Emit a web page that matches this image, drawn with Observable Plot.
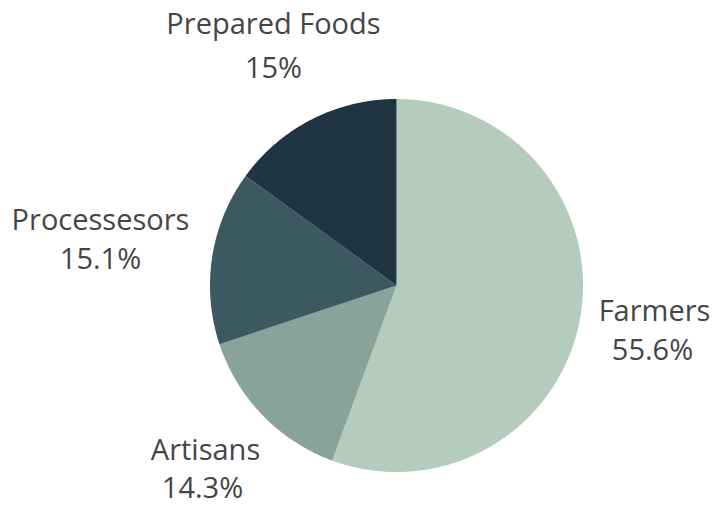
<!DOCTYPE html>
<html>
<head>
<meta charset="utf-8">
<script src="https://cdn.jsdelivr.net/npm/d3@7"></script>
<script src="https://cdn.jsdelivr.net/npm/@observablehq/plot@0.6"></script>
<style>
  html, body { margin: 0; padding: 0; background: #ffffff; }
  #chart svg { display: block; }
</style>
</head>
<body>
<div id="chart"></div>
<script>
// ---- data ----
const categories = ["Farmers", "Artisans", "Processesors", "Prepared Foods"];
const shares = [55.6, 14.3, 15.1, 15.0];
const pctLabels = ["55.6%", "14.3%", "15.1%", "15%"];
const sliceColors = ["#b4ccbd", "#87a39a", "#3c5860", "#1f3442"];

// ---- layout (pixels) ----
const W = 715, H = 506;
const CX = 396, CY = 285, R = 186.5;

// label anchor positions in pixel space (name line, pct line)
const labelLayout = {
  "Farmers":        {nx: 654, ny: 311, px: 652, py: 350},
  "Artisans":       {nx: 205, ny: 450, px: 202, py: 488},
  "Processesors":   {nx: 100, ny: 220, px: 100, py: 259},
  "Prepared Foods": {nx: 273, ny: 24,  px: 273, py: 68}
};
const toX = (px) => (px - CX) / R;
const toY = (py) => (CY - py) / R;

const table = categories.map((c, i) => ({name: c, value: shares[i], pct: pctLabels[i]}));
const arcs = d3.pie().sort(null).value(d => d.value)(table);

// slice polygons in unit-circle coordinates (clockwise from 12 o'clock)
const polyPts = [];
arcs.forEach(a => {
  const n = Math.max(2, Math.ceil((a.endAngle - a.startAngle) / 0.01));
  polyPts.push({name: a.data.name, x: 0, y: 0});
  for (let k = 0; k <= n; k++) {
    const t = a.startAngle + (a.endAngle - a.startAngle) * k / n;
    polyPts.push({name: a.data.name, x: Math.sin(t), y: Math.cos(t)});
  }
  polyPts.push({name: a.data.name, x: 0, y: 0});
});

const labels = table.map(d => ({
  ...d,
  nx: toX(labelLayout[d.name].nx), ny: toY(labelLayout[d.name].ny),
  px: toX(labelLayout[d.name].px), py: toY(labelLayout[d.name].py)
}));

const font = "'Open Sans', 'Noto Sans', sans-serif";

const chart = Plot.plot({
  width: W,
  height: H,
  margin: 0,
  style: {background: "#ffffff", fontFamily: font},
  x: {domain: [toX(0), toX(W)], axis: null},
  y: {domain: [toY(H), toY(0)], axis: null},
  color: {domain: categories, range: sliceColors},
  marks: [
    Plot.line(polyPts, {x: "x", y: "y", z: "name", fill: "name", stroke: null, curve: "linear"}),
    Plot.text(labels, {x: "nx", y: "ny", text: "name", fill: "#454545", fontSize: 29, fontFamily: font, lineAnchor: "middle", textAnchor: "middle"}),
    Plot.text(labels, {x: "px", y: "py", text: "pct", fill: "#454545", fontSize: 29, fontFamily: font, lineAnchor: "middle", textAnchor: "middle"})
  ]
});
document.getElementById("chart").appendChild(chart);
</script>
</body>
</html>
